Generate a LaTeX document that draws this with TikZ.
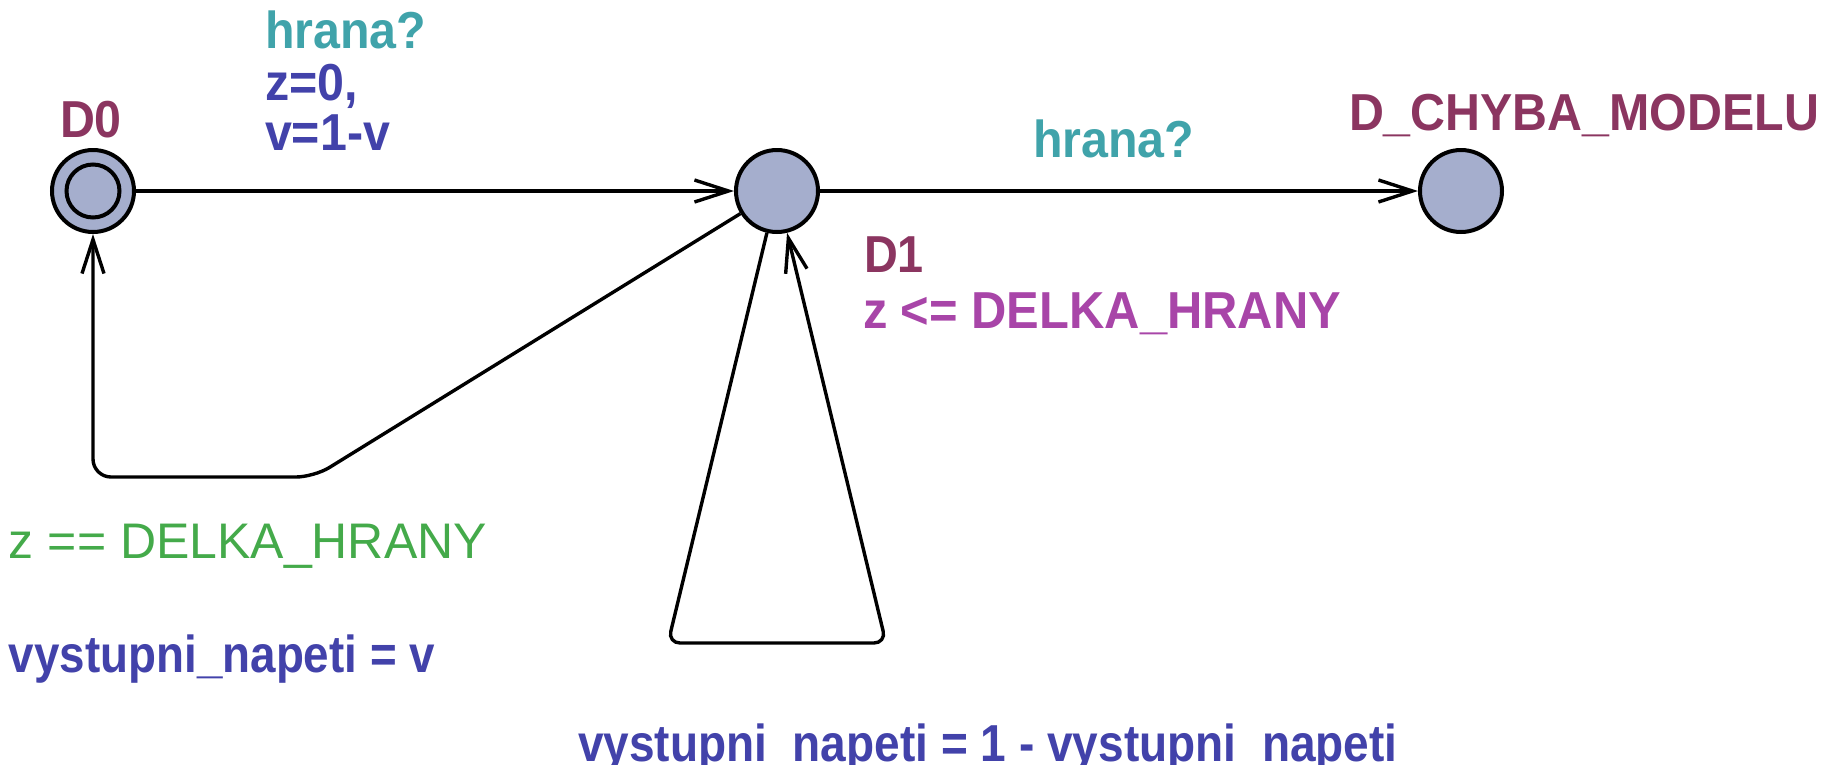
\documentclass[tikz,border=0pt]{standalone}
\usepackage{fontspec}
\setmainfont{Liberation Sans}
\usetikzlibrary{arrows.meta}
\definecolor{synccol}{RGB}{64,163,170}
\definecolor{updcol}{RGB}{66,66,170}
\definecolor{loccol}{RGB}{139,53,96}
\definecolor{invcol}{RGB}{168,69,168}
\definecolor{grdcol}{RGB}{68,170,74}
\definecolor{locfill}{RGB}{165,174,205}
\newcommand\condensed[2][0.93]{\scalebox{#1}[1]{#2}}
\begin{document}
\begin{tikzpicture}[x=1pt,y=-1pt,
  loc/.style={circle, draw=black, line width=4pt, fill=locfill, minimum size=82pt, inner sep=0pt},
  edgeline/.style={line width=3.4pt, rounded corners=18pt},
  arr/.style={-{Straight Barb[length=34pt,width=22pt]}},
  txt/.style={inner sep=0pt, outer sep=0pt, anchor=base west},
  bt/.style={txt, font=\bfseries\fontsize{52}{52}\selectfont},
  rt/.style={txt, font=\fontsize{50}{50}\selectfont}
]
\useasboundingbox (0,0) rectangle (1842,764);

% locations
\node[loc] (D0) at (93,191) {};
\draw[line width=4pt] (D0.center) circle[radius=26.5pt];
\node[loc] (D1) at (777,191) {};
\node[loc] (DC) at (1461,191) {};

% location labels
\node[bt, text=loccol] (lD0) at (60,137) {\condensed{D0}};
\node[bt, text=loccol] (lD1) at (864,272) {\condensed[0.9]{D1}};
\node[bt, text=invcol] (iD1) at (863,328) {\condensed[0.94]{z <= DELKA\_HRANY}};
\node[bt, text=loccol] (lDC) at (1349,130) {\condensed{D\_CHYBA\_MODELU}};

% edges
\draw[edgeline, arr] (D0) -- (D1);
\draw[edgeline, arr] (D1) -- (DC);
\coordinate (a1) at (314,477);
\draw[edgeline, arr] (D1) -- (a1) -- (D0 |- a1) -- (D0);
\coordinate (b1) at (668,643);
\coordinate (b2) at (886,643);
\draw[edgeline, rounded corners=12pt, arr] (D1) -- (b1) -- (b2) -- (D1);

% edge labels
\node[bt, text=synccol] (s1) at (265,48) {\condensed{hrana?}};
\node[bt, text=updcol] (u1) at (265,100) {\condensed{z=0,}};
\node[bt, text=updcol] (u2) at (265,150) {\condensed{v=1-v}};
\node[bt, text=synccol] (s2) at (1033,157) {\condensed{hrana?}};
\node[rt, text=grdcol] (g1) at (9,558) {z == DELKA\_HRANY};
\node[bt, text=updcol] (u3) at (9,672) {\condensed[0.88]{vystupni\_napeti = v}};
\node[bt, text=updcol] (u4) at (578,761) {\condensed[0.885]{vystupni\_napeti = 1 - vystupni\_napeti}};
\end{tikzpicture}
\end{document}
